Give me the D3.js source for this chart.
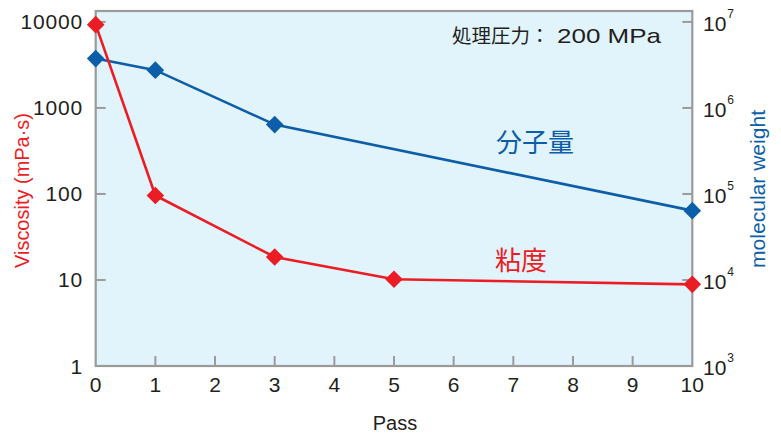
<!DOCTYPE html>
<html><head><meta charset="utf-8">
<script src="https://cdn.jsdelivr.net/npm/d3@7"></script>
<style>
html,body{margin:0;padding:0;background:#fff;}
svg{display:block;font-family:"Liberation Sans",Arial,Helvetica,sans-serif;}
</style></head>
<body>
<svg id="c" width="781" height="436"></svg>
<script>
const passes = [0, 1, 3, 5, 10];
const viscosity = [9300, 96, 18.5, 10.2, 8.9];
const molWeightPasses = [0, 1, 3, 10];
const molWeight = [3.75e6, 2.75e6, 6.4e5, 6.4e4];
const xTicks = [0,1,2,3,4,5,6,7,8,9,10];
const yLeftTicks = [1, 10, 100, 1000, 10000];
const yRightExp = [3, 4, 5, 6, 7];

const red = "#ec1c24", blue = "#0d5ea8", grey = "#9b9b9b", ink = "#231f20";
const svg = d3.select("#c");
const L = 95.7, R = 692.3, T = 11, B = 366;
const x = d3.scaleLinear().domain([0,10]).range([L,R]);
const yL = d3.scaleLog().domain([1, 13400]).range([B,T]);
const yR = d3.scaleLog().domain([1e3, 1.34e7]).range([B,T]);

svg.append("rect").attr("x",L).attr("y",T).attr("width",R-L).attr("height",B-T)
  .attr("fill","#e1f3fb");

// ticks inside
const g = svg.append("g");
xTicks.forEach(t=>{ if(t>0 && t<10) g.append("line").attr("x1",x(t)).attr("x2",x(t)).attr("y1",B).attr("y2",B-10).attr("stroke",grey).attr("stroke-width",2); });
yLeftTicks.forEach(t=>{ if(t>1) g.append("line").attr("x1",L).attr("x2",L+10).attr("y1",yL(t)).attr("y2",yL(t)).attr("stroke",grey).attr("stroke-width",2); });
yRightExp.forEach(e=>{ if(e>3) g.append("line").attr("x1",R).attr("x2",R-10).attr("y1",yR(Math.pow(10,e))).attr("y2",yR(Math.pow(10,e))).attr("stroke",grey).attr("stroke-width",2); });
svg.append("rect").attr("x",L).attr("y",T).attr("width",R-L).attr("height",B-T)
  .attr("fill","none").attr("stroke",grey).attr("stroke-width",2.2);

// tick labels
xTicks.forEach(t=>{
  svg.append("text").attr("x",x(t)).attr("y",392).attr("text-anchor","middle")
    .attr("font-size",21).attr("fill",ink).text(t);
});
yLeftTicks.forEach(t=>{
  svg.append("text").attr("x",83).attr("y",yL(t)+7.5).attr("text-anchor","end")
    .attr("font-size",21).attr("fill",ink).attr("letter-spacing",0.8).text(t);
});
yRightExp.forEach(e=>{
  const tx = svg.append("text").attr("x",703).attr("y",yR(Math.pow(10,e))+9)
    .attr("font-size",21).attr("fill",ink);
  tx.append("tspan").text("10");
  tx.append("tspan").attr("dy",-13).attr("dx",1).attr("font-size",12).text(e);
});

// lines
const lineL = d3.line().x(d=>x(d[0])).y(d=>yL(d[1]));
const lineR = d3.line().x(d=>x(d[0])).y(d=>yR(d[1]));
const vData = passes.map((p,i)=>[p,viscosity[i]]);
const mData = molWeightPasses.map((p,i)=>[p,molWeight[i]]);
svg.append("path").attr("d",lineR(mData)).attr("fill","none").attr("stroke",blue).attr("stroke-width",2.6);
svg.append("path").attr("d",lineL(vData)).attr("fill","none").attr("stroke",red).attr("stroke-width",2.6);
const diamond = d3.symbol().type(d3.symbolSquare).size(155);
svg.selectAll(".mw").data(mData).enter().append("path")
  .attr("d",diamond).attr("transform",d=>`translate(${x(d[0])},${yR(d[1])}) rotate(45)`).attr("fill",blue);
svg.selectAll(".vs").data(vData).enter().append("path")
  .attr("d",diamond).attr("transform",d=>`translate(${x(d[0])},${yL(d[1])}) rotate(45)`).attr("fill",red);

// axis titles
svg.append("text").attr("transform","translate(29,190.5) rotate(-90)").attr("text-anchor","middle")
  .attr("font-size",20).attr("fill",red)
  .attr("textLength",155).attr("lengthAdjust","spacingAndGlyphs").text("Viscosity (mPa·s)");
svg.append("text").attr("transform","translate(765,189) rotate(-90)").attr("text-anchor","middle")
  .attr("font-size",20).attr("fill",blue)
  .attr("textLength",158).attr("lengthAdjust","spacingAndGlyphs").text("molecular weight");
svg.append("text").attr("x",395).attr("y",430).attr("text-anchor","middle")
  .attr("font-size",20).attr("fill",ink).text("Pass");

// annotations
const cjk = '"Noto Sans CJK JP","Liberation Sans",sans-serif';
svg.append("text").attr("x",452).attr("y",43).attr("font-size",19.5).attr("fill",ink)
  .attr("font-family",cjk).text("処理圧力：");
svg.append("text").attr("x",557).attr("y",43).attr("font-size",21).attr("fill",ink)
  .attr("textLength",104).attr("lengthAdjust","spacingAndGlyphs").text("200 MPa");
svg.append("text").attr("x",496).attr("y",152).attr("font-size",26).attr("fill",blue)
  .attr("font-family",cjk).text("分子量");
svg.append("text").attr("x",495).attr("y",270).attr("font-size",26).attr("fill",red)
  .attr("font-family",cjk).text("粘度");
</script>
</body></html>
